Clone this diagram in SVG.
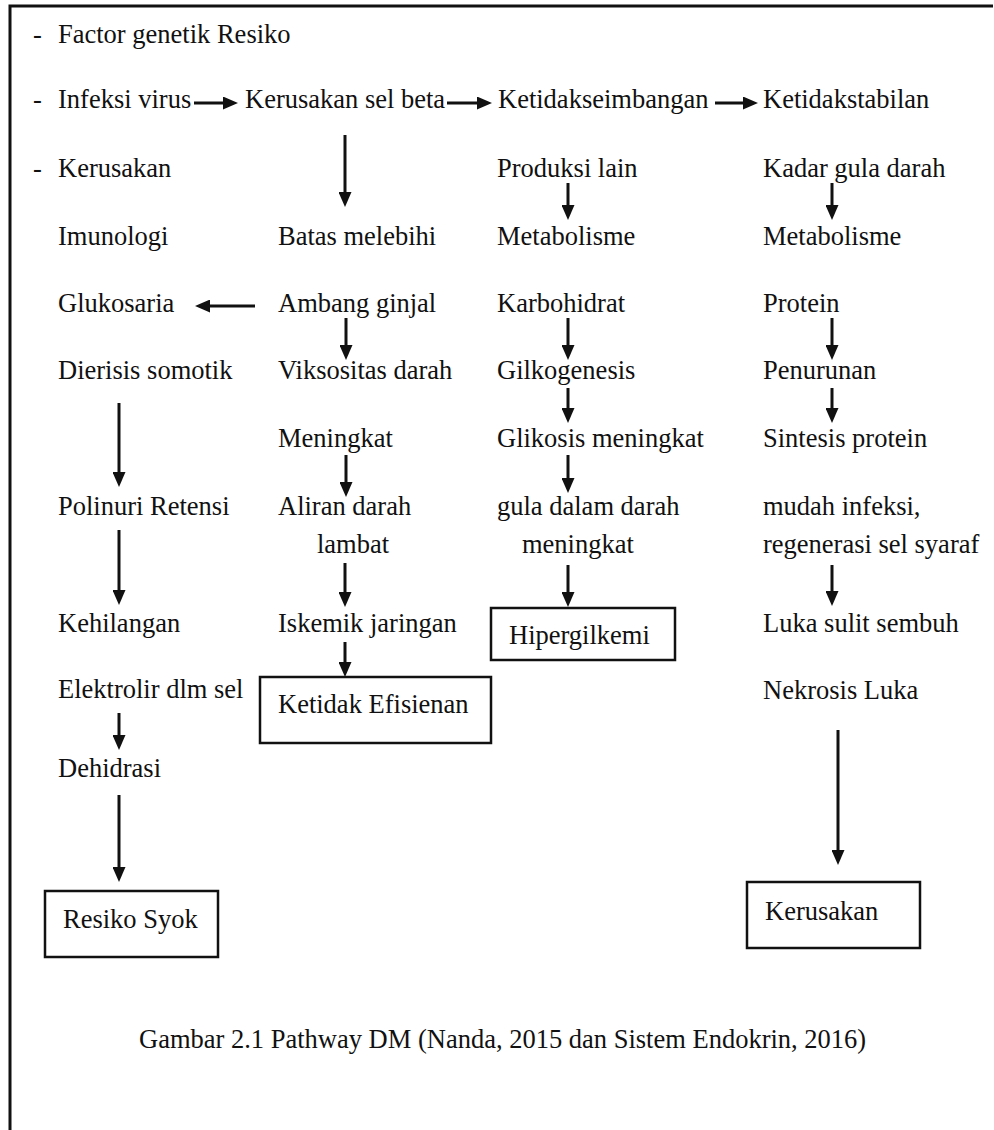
<svg xmlns="http://www.w3.org/2000/svg" width="994" height="1130" viewBox="0 0 994 1130">
<defs>
<style>
text{font-family:"Liberation Serif","Times New Roman",serif;font-size:26.5px;fill:#111}
.box{fill:none;stroke:#111;stroke-width:2.5}
.c line{stroke:#111;stroke-width:3;marker-end:url(#ah)}
</style>
<marker id="ah" viewBox="0 0 15 13" markerUnits="userSpaceOnUse" markerWidth="15" markerHeight="13" refX="7" refY="6.5" orient="auto">
<path d="M0,0 L15,6.5 L0,13 z" fill="#111"/>
</marker>
</defs>
<rect width="994" height="1130" fill="#fff"/>
<path d="M10,1130 L10,6 L993,6" fill="none" stroke="#111" stroke-width="3"/>

<g id="col1">
<text x="33" y="43">-</text><text x="58" y="43">Factor genetik Resiko</text>
<text x="33" y="108">-</text><text x="58" y="108">Infeksi virus</text>
<text x="33" y="177">-</text><text x="58" y="177">Kerusakan</text>
<text x="58" y="245">Imunologi</text>
<text x="58" y="312">Glukosaria</text>
<text x="58" y="379">Dierisis somotik</text>
<text x="58" y="515">Polinuri Retensi</text>
<text x="58" y="632">Kehilangan</text>
<text x="58" y="698">Elektrolir dlm sel</text>
<text x="58" y="777">Dehidrasi</text>
</g>
<g id="resiko-syok"><rect class="box" x="45" y="891" width="173" height="66"/><text x="63" y="928">Resiko Syok</text></g>

<g id="col2">
<text x="245" y="108">Kerusakan sel beta</text>
<text x="278" y="245">Batas melebihi</text>
<text x="278" y="312">Ambang ginjal</text>
<text x="278" y="379">Viksositas darah</text>
<text x="278" y="447">Meningkat</text>
<text x="278" y="515">Aliran darah</text>
<text x="317" y="553">lambat</text>
<text x="278" y="632">Iskemik jaringan</text>
</g>
<g id="ketidak-efisienan"><rect class="box" x="260" y="677" width="231" height="66"/><text x="278" y="713">Ketidak Efisienan</text></g>

<g id="col3">
<text x="498" y="108">Ketidakseimbangan</text>
<text x="497" y="177">Produksi lain</text>
<text x="497" y="245">Metabolisme</text>
<text x="497" y="312">Karbohidrat</text>
<text x="497" y="379">Gilkogenesis</text>
<text x="497" y="447">Glikosis meningkat</text>
<text x="497" y="515">gula dalam darah</text>
<text x="522" y="553">meningkat</text>
</g>
<g id="hipergilkemi"><rect class="box" x="491" y="608" width="184" height="52"/><text x="509" y="644">Hipergilkemi</text></g>

<g id="col4">
<text x="763" y="108">Ketidakstabilan</text>
<text x="763" y="177">Kadar gula darah</text>
<text x="763" y="245">Metabolisme</text>
<text x="763" y="312">Protein</text>
<text x="763" y="379">Penurunan</text>
<text x="763" y="447">Sintesis protein</text>
<text x="763" y="515">mudah infeksi,</text>
<text x="763" y="553">regenerasi sel syaraf</text>
<text x="763" y="632">Luka sulit sembuh</text>
<text x="763" y="699">Nekrosis Luka</text>
</g>
<g id="kerusakan"><rect class="box" x="747" y="882" width="173" height="66"/><text x="765" y="920">Kerusakan</text></g>

<g class="c" id="connectors">
<line x1="194" y1="103" x2="230" y2="103"/>
<line x1="447" y1="103" x2="484" y2="103"/>
<line x1="715" y1="103" x2="750" y2="103"/>
<line x1="345" y1="135" x2="345" y2="199"/>
<line x1="255" y1="306" x2="203" y2="306"/>
<line x1="346" y1="318" x2="346" y2="352"/>
<line x1="346" y1="455" x2="346" y2="489"/>
<line x1="345" y1="563" x2="345" y2="599"/>
<line x1="345" y1="642" x2="345" y2="669"/>
<line x1="119" y1="403" x2="119" y2="479"/>
<line x1="119" y1="530" x2="119" y2="597"/>
<line x1="119" y1="713" x2="119" y2="742"/>
<line x1="119" y1="795" x2="119" y2="874"/>
<line x1="568" y1="183" x2="568" y2="212"/>
<line x1="568" y1="318" x2="568" y2="352"/>
<line x1="568" y1="388" x2="568" y2="415"/>
<line x1="568" y1="455" x2="568" y2="485"/>
<line x1="568" y1="565" x2="568" y2="599"/>
<line x1="832" y1="183" x2="832" y2="212"/>
<line x1="832" y1="318" x2="832" y2="352"/>
<line x1="832" y1="388" x2="832" y2="415"/>
<line x1="832" y1="565" x2="832" y2="598"/>
<line x1="838" y1="730" x2="838" y2="857"/>
</g>

<text x="139" y="1048">Gambar 2.1 Pathway DM (Nanda, 2015 dan Sistem Endokrin, 2016)</text>
</svg>
